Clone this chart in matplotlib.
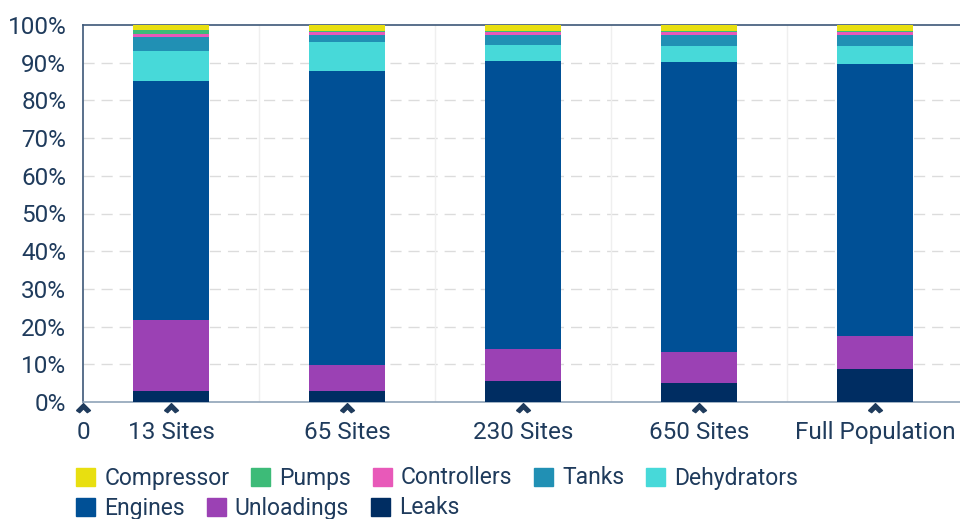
import matplotlib
matplotlib.use('Agg')
import matplotlib.pyplot as plt
from matplotlib.path import Path
from matplotlib.patches import Patch
import numpy as np

# données (% des émissions par source)
sites = ['13 Sites', '65 Sites', '230 Sites', '650 Sites', 'Full Population']
leaks = [3.0, 3.0, 5.6, 5.0, 8.8]
unloadings = [18.7, 6.8, 8.5, 8.3, 8.7]
engines = [63.5, 78.0, 76.4, 76.9, 72.2]
dehydrators = [8.0, 7.7, 4.2, 4.2, 4.7]
tanks = [3.5, 1.8, 2.6, 2.9, 2.9]
controllers = [1.0, 0.8, 0.9, 0.9, 0.9]
pumps = [1.0, 0.4, 0.3, 0.3, 0.3]
compressor = [1.3, 1.5, 1.5, 1.5, 1.5]

series = [
    ('Leaks', leaks, '#002d62'),
    ('Unloadings', unloadings, '#9b41b4'),
    ('Engines', engines, '#005096'),
    ('Dehydrators', dehydrators, '#47d9d9'),
    ('Tanks', tanks, '#2190b4'),
    ('Controllers', controllers, '#e859b9'),
    ('Pumps', pumps, '#3dbb78'),
    ('Compressor', compressor, '#e8df10'),
]

txt = '#1f3b5c'
plt.rcParams['font.family'] = ['Roboto', 'DejaVu Sans']
s = 17.5

fig = plt.figure(figsize=(9.6, 5.19), dpi=100)
ax = fig.add_axes([83/960, 1-402/519, 880/960, 377/519])

x = np.arange(len(sites)) + 0.5
bottom = np.zeros(len(sites))
colors = {}
for name, vals, c in series:
    ax.bar(x, vals, 0.43, bottom=bottom, color=c, linewidth=0, zorder=3)
    bottom += np.array(vals)
    colors[name] = c

ax.set_xlim(0, 5)
ax.set_ylim(0, 100)

# grille
for yy in range(10, 100, 10):
    ax.axhline(yy, color='#dcdcdc', lw=1, ls=(0, (8, 5)), zorder=1)
for xx in range(1, 5):
    ax.axvline(xx, color='#efefef', lw=1, zorder=1)

ax.set_yticks(range(0, 101, 10))
ax.set_yticklabels(['%d%%' % v for v in range(0, 101, 10)], fontsize=s, color=txt)
ax.tick_params(axis='y', length=0, pad=12)
ax.set_xticks(np.concatenate([[0], x]))
ax.set_xticklabels(['0'] + sites, fontsize=s, color=txt)
ax.tick_params(axis='x', length=0, pad=14)

ax.spines['right'].set_visible(False)
ax.spines['left'].set_color('#3d5878')
ax.spines['top'].set_color('#3d5878')
ax.spines['bottom'].set_color('#8fa3b8')
for sp in ['left', 'top', 'bottom']:
    ax.spines[sp].set_linewidth(1.2)

# petits chevrons sous l'axe
chev = Path([(-1, -0.3), (0, 0.7), (1, -0.3), (0.55, -0.6), (0, -0.05), (-0.55, -0.6), (-1, -0.3)])
ax.plot(np.concatenate([[0], x]), np.full(len(x)+1, -1.6), ls='none', marker=chev,
        ms=10, color=txt, clip_on=False, zorder=5)

# légende en deux lignes
row1 = ['Compressor', 'Pumps', 'Controllers', 'Tanks', 'Dehydrators']
row2 = ['Engines', 'Unloadings', 'Leaks']
kw = dict(frameon=False, fontsize=16.5, handlelength=0.83, handleheight=0.83,
          handletextpad=0.4, columnspacing=0.95, labelcolor=txt, borderpad=0, borderaxespad=0)
l1 = fig.legend([Patch(color=colors[n]) for n in row1], row1, ncol=5,
                loc='center left', bbox_to_anchor=(76/960, 1-478/519), **kw)
l2 = fig.legend([Patch(color=colors[n]) for n in row2], row2, ncol=3,
                loc='center left', bbox_to_anchor=(76/960, 1-508/519), **kw)

plt.savefig('out.png', dpi=100)
